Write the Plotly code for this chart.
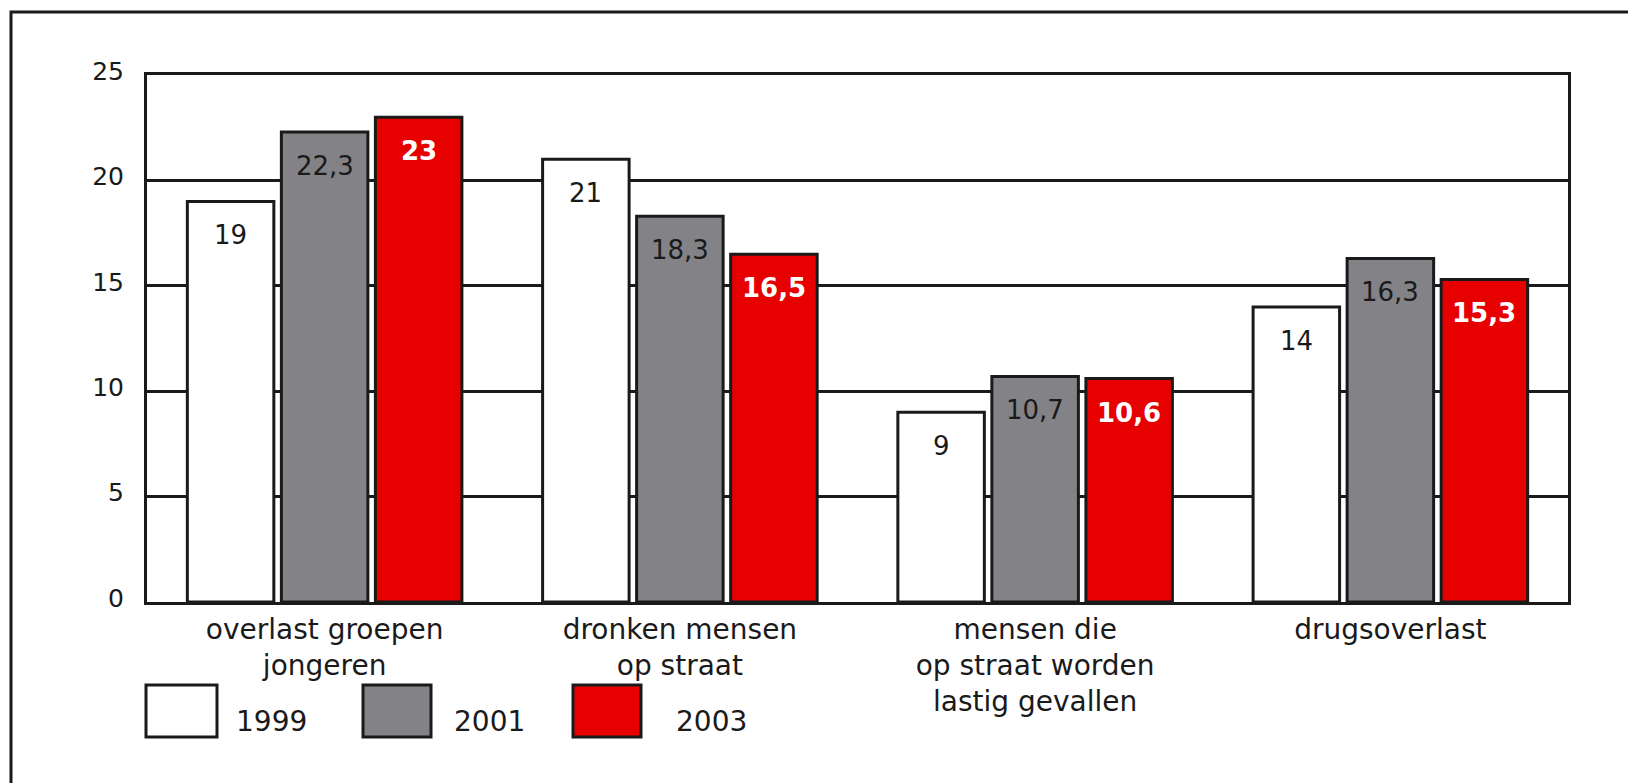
import plotly.graph_objects as go

# the page body adds an 8px margin, so the figure is 8px smaller and shifted
W, H = 1628, 775
OFF = 8
M_L, M_R, M_T, M_B = 139, 68, 67, 181

categories = [
    "overlast groepen<br>jongeren",
    "dronken mensen<br>op straat",
    "mensen die<br>op straat worden<br>lastig gevallen",
    "drugsoverlast",
]
years = ["1999", "2001", "2003"]
values_1999 = [19, 21, 9, 14]
values_2001 = [22.3, 18.3, 10.7, 16.3]
values_2003 = [23, 16.5, 10.6, 15.3]
y_ticks = [0, 5, 10, 15, 20, 25]

series = [values_1999, values_2001, values_2003]
fills = ["#ffffff", "#838287", "#e60000"]
label_colors = ["#1a1a1a", "#1a1a1a", "#ffffff"]
FONT = "DejaVu Sans"
BARGAP = 0.206


def fmt(v):
    return f"{v:g}".replace(".", ",")


def px_x(x):
    # x given in window pixels
    return (x - OFF - M_L) / (W - M_L - M_R)


def px_y(y):
    return (H - M_B - (y - OFF)) / (H - M_T - M_B)


fig = go.Figure()
for year, vals, fill in zip(years, series, fills):
    fig.add_trace(
        go.Bar(
            x=categories,
            y=vals,
            name=year,
            marker=dict(color=fill, line=dict(color="#1a1a1a", width=3)),
            showlegend=False,
            hoverinfo="skip",
        )
    )

# value labels inside the top of each bar
slot = (1 - BARGAP) / len(years)
annotations = []
for k, (vals, col) in enumerate(zip(series, label_colors)):
    for i, v in enumerate(vals):
        annotations.append(
            dict(
                x=i + (k - 1) * slot,
                y=v,
                xref="x",
                yref="y",
                text=f"<b>{fmt(v)}</b>" if k == 2 else fmt(v),
                showarrow=False,
                yshift=-34,
                font=dict(family=FONT, size=26, color=col),
            )
        )

# legend drawn by hand: big boxes with the year next to them
shapes = []
legend_boxes = [(146, 217), (363, 431), (573, 641)]
legend_text_x = [234, 452, 674]
for (x0, x1), tx, year, fill in zip(legend_boxes, legend_text_x, years, fills):
    shapes.append(
        dict(
            type="rect", xref="paper", yref="paper",
            x0=px_x(x0), x1=px_x(x1), y0=px_y(737), y1=px_y(685),
            fillcolor=fill, line=dict(color="#1a1a1a", width=3),
        )
    )
    annotations.append(
        dict(
            x=px_x(tx), y=px_y(740), xref="paper", yref="paper",
            xanchor="left", yanchor="bottom", text=year, showarrow=False,
            font=dict(family=FONT, size=28, color="#1a1a1a"),
        )
    )

# outer frame, open at the bottom
fx0, fx1, fy0 = px_x(11), px_x(1630), px_y(12)
fyb = px_y(800)
shapes.append(
    dict(
        type="path", xref="paper", yref="paper",
        path=f"M {fx0} {fyb} L {fx0} {fy0} L {fx1} {fy0} L {fx1} {fyb}",
        line=dict(color="#1a1a1a", width=3),
    )
)

fig.update_layout(
    width=W,
    height=H,
    margin=dict(l=M_L, r=M_R, t=M_T, b=M_B),
    paper_bgcolor="white",
    plot_bgcolor="white",
    barmode="group",
    bargap=BARGAP,
    bargroupgap=0.08,
    font=dict(family=FONT, color="#1a1a1a"),
    annotations=annotations,
    shapes=shapes,
)
fig.update_xaxes(
    showgrid=False,
    ticks="",
    tickfont=dict(size=28),
    showline=True,
    mirror=True,
    linecolor="#1a1a1a",
    linewidth=3,
    ticklabelstandoff=0,
)
fig.update_yaxes(
    range=[0, 25],
    tickvals=y_ticks,
    tickfont=dict(size=25),
    showgrid=True,
    gridcolor="#1a1a1a",
    gridwidth=2.5,
    zeroline=False,
    showline=True,
    mirror=True,
    linecolor="#1a1a1a",
    linewidth=3,
    ticks="",
    ticklabelstandoff=15,
    ticklabelshift=-4,
)

fig.write_html("out.html")
